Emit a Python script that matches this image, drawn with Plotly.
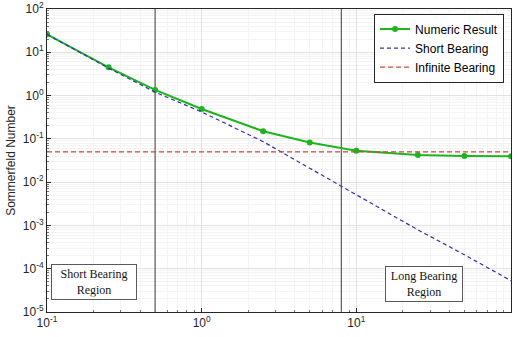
import plotly.graph_objects as go

x_vals = [0.1, 0.25, 0.5, 1, 2.5, 5, 10, 25, 50, 100]
numeric = [26, 4.5, 1.35, 0.49, 0.15, 0.082, 0.053, 0.0425, 0.040, 0.0395]
short_bearing = [26, 4.3, 1.2, 0.42, 0.086, 0.021, 0.0052, 0.00079, 0.00021, 0.000053]
infinite_val = 0.05
x_range_ends = [0.1, 100]
region_limits = [0.5, 8]
y_range_ends = [1e-5, 1e2]

x_tickvals = [0.1, 1, 10, 100]
x_ticktext = ["10<sup>-1</sup>", "10<sup>0</sup>", "10<sup>1</sup>", "10<sup>2</sup>"]
y_tickvals = [1e-5, 1e-4, 1e-3, 1e-2, 1e-1, 1, 10, 100]
y_ticktext = ["10<sup>-5</sup>", "10<sup>-4</sup>", "10<sup>-3</sup>", "10<sup>-2</sup>",
              "10<sup>-1</sup>", "10<sup>0</sup>", "10<sup>1</sup>", "10<sup>2</sup>"]

fig = go.Figure()

for xv in region_limits:
    fig.add_trace(go.Scatter(x=[xv, xv], y=y_range_ends, mode="lines",
                             line=dict(color="rgb(90,90,90)", width=1.2),
                             showlegend=False, hoverinfo="skip"))

fig.add_trace(go.Scatter(x=x_vals, y=numeric, mode="lines+markers", name="Numeric Result",
                         line=dict(color="rgb(30,180,30)", width=2),
                         marker=dict(size=6, color="rgb(30,180,30)")))
fig.add_trace(go.Scatter(x=x_vals, y=short_bearing, mode="lines", name="Short Bearing",
                         line=dict(color="rgb(50,50,170)", width=1.2, dash="4px,3px")))
fig.add_trace(go.Scatter(x=x_range_ends, y=[infinite_val, infinite_val], mode="lines",
                         name="Infinite Bearing",
                         line=dict(color="rgb(205,70,60)", width=1.3, dash="5px,3px")))

axis_common = dict(
    type="log", showline=True, mirror=True,
    linecolor="rgb(38,38,38)", linewidth=1, ticks="inside", ticklen=4,
    tickcolor="rgb(38,38,38)", showgrid=True, gridcolor="rgb(226,226,226)", gridwidth=1,
    zeroline=False, automargin=False,
    tickfont=dict(family="Liberation Sans", size=12, color="rgb(38,38,38)"),
    minor=dict(showgrid=True, gridcolor="rgb(244,244,244)", ticks="inside", ticklen=2,
               tickcolor="rgb(120,120,120)", dtick="D1"),
)

fig.update_xaxes(range=[-1, 2], tickmode="array", tickvals=x_tickvals, ticktext=x_ticktext,
                 **axis_common)
fig.update_yaxes(range=[-5, 2], tickmode="array", tickvals=y_tickvals, ticktext=y_ticktext,
                 title=dict(text="Sommerfeld Number", standoff=4,
                            font=dict(family="Liberation Sans", size=12, color="rgb(38,38,38)")),
                 **axis_common)

ann_font = dict(family="Liberation Serif", size=12, color="rgb(20,20,20)")
fig.add_annotation(x=0.101, y=0.099, xref="paper", yref="paper", xanchor="center",
                   yanchor="middle",
                   text="Short Bearing<br>Region", showarrow=False, font=ann_font,
                   bordercolor="rgb(90,90,90)", borderwidth=1, borderpad=2, bgcolor="white",
                   width=80)
fig.add_annotation(x=0.8125, y=0.091, xref="paper", yref="paper", xanchor="center",
                   yanchor="middle",
                   text="Long Bearing<br>Region", showarrow=False, font=ann_font,
                   bordercolor="rgb(90,90,90)", borderwidth=1, borderpad=2, bgcolor="white",
                   width=72)

fig.update_layout(
    width=519, height=337, margin=dict(l=47, r=8, t=9, b=25),
    plot_bgcolor="white", paper_bgcolor="white",
    legend=dict(x=0.985, y=0.985, xanchor="right", yanchor="top",
                bgcolor="white", bordercolor="rgb(38,38,38)", borderwidth=1,
                font=dict(family="Liberation Sans", size=12, color="black"),
                tracegroupgap=0, itemwidth=30),
)

fig.write_html("out.html")
